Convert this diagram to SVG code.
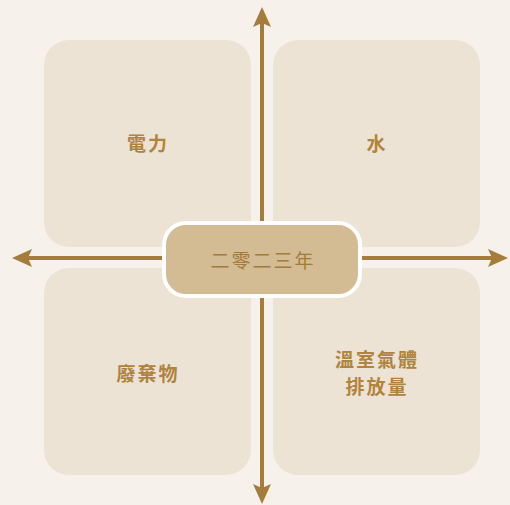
<svg xmlns="http://www.w3.org/2000/svg" width="510" height="505" viewBox="0 0 510 505">
<style>
.q{fill:#ede3d5;}
.ax{stroke:#a67c3c;stroke-width:4;fill:none;}
.lb{font-family:"Noto Sans CJK TC","Noto Sans CJK SC",sans-serif;font-size:19px;font-weight:bold;fill:#ae843f;text-anchor:middle;dominant-baseline:central;letter-spacing:2px;}
.ct{font-family:"Noto Sans CJK TC","Noto Sans CJK SC",sans-serif;font-size:19px;fill:#a47a3a;text-anchor:middle;dominant-baseline:central;letter-spacing:2px;}
</style>
<defs>
<marker id="ah" viewBox="0 0 20 18" refX="4" refY="9" markerWidth="20" markerHeight="18" markerUnits="userSpaceOnUse" orient="auto">
<path d="M0,0 L20,9 L0,18 L4,9 z" fill="#a67c3c"/>
</marker>
</defs>
<rect width="510" height="505" fill="#f6f1ea"/>
<g id="q-electricity"><rect class="q" x="44" y="40" width="207" height="207" rx="25"/><text class="lb" x="148" y="142">電力</text></g>
<g id="q-water"><rect class="q" x="273" y="40" width="207" height="207" rx="25"/><text class="lb" x="377" y="142">水</text></g>
<g id="q-waste"><rect class="q" x="44" y="268" width="207" height="207" rx="25"/><text class="lb" x="148" y="372">廢棄物</text></g>
<g id="q-ghg"><rect class="q" x="273" y="268" width="207" height="207" rx="25"/><text class="lb" x="377" y="358">溫室氣體</text><text class="lb" x="377" y="385">排放量</text></g>
<g id="connectors">
<line class="ax" x1="262" y1="258" x2="262" y2="23" marker-end="url(#ah)"/>
<line class="ax" x1="262" y1="258" x2="262" y2="488" marker-end="url(#ah)"/>
<line class="ax" x1="262" y1="258" x2="28" y2="258" marker-end="url(#ah)"/>
<line class="ax" x1="262" y1="258" x2="492" y2="258" marker-end="url(#ah)"/>
</g>
<g id="center"><rect x="164" y="223" width="196" height="73" rx="22" fill="#d3bc94" stroke="#ffffff" stroke-width="4"/><text class="ct" x="263" y="259">二零二三年</text></g>
</svg>
